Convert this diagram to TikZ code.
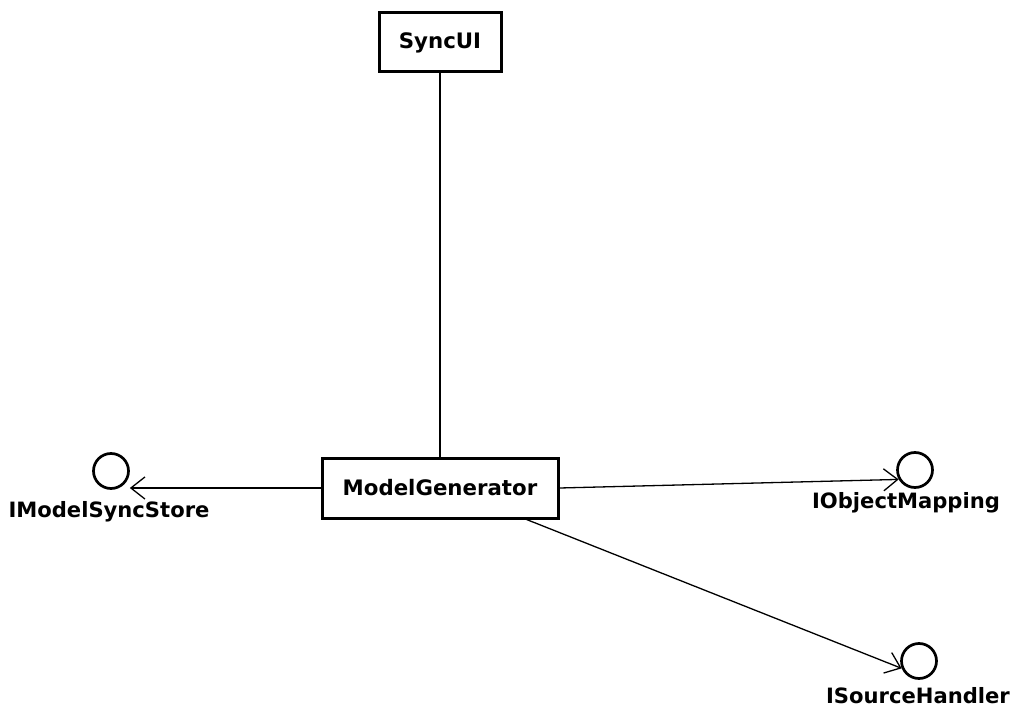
\documentclass[tikz,border=0pt]{standalone}
\usepackage{fontspec}
\setmainfont{DejaVu Sans}
\usetikzlibrary{arrows.meta}
\begin{document}
\begin{tikzpicture}[x=1pt,y=-1pt,
  cls/.style={draw=black, line width=3pt, fill=white, inner sep=0pt,
    font=\fontsize{21.3}{25}\selectfont\bfseries},
  iface/.style={circle, draw=black, line width=2.7pt, minimum size=35pt, inner sep=0pt},
  ilabel/.style={font=\fontsize{21.1}{25}\selectfont\bfseries, inner sep=0pt, anchor=base},
  assoc/.style={line width=1.3pt},
  dep/.style={line width=1.3pt, -{Straight Barb[length=14pt,width=22pt]}}
]
\useasboundingbox (0,0) rectangle (1013,709);

% classes
\node[cls, minimum width=122pt, minimum height=59pt] (sync) at (440,42.5) {SyncUI};
\node[cls, minimum width=236pt, minimum height=60pt] (mg) at (440,488) {ModelGenerator};

% provided interfaces (lollipops) and their names
\node[iface] (ims) at (111,471) {};
\node[iface] (iom) at (915,470) {};
\node[iface] (ish) at (919,661) {};
\node[ilabel] (imsl) at (109,517) {IModelSyncStore};
\node[ilabel] (ioml) at (906,508) {IObjectMapping};
\node[ilabel] (ishl) at (918,703) {ISourceHandler};

% connectors
\draw[assoc] (sync) -- (mg);
\draw[dep] (mg.west) -- (ims.east |- mg.west);
\draw[dep] (mg.east) -- (iom.-150);
\draw[dep] (mg.-20) -- (ish.-157);
\end{tikzpicture}
\end{document}
